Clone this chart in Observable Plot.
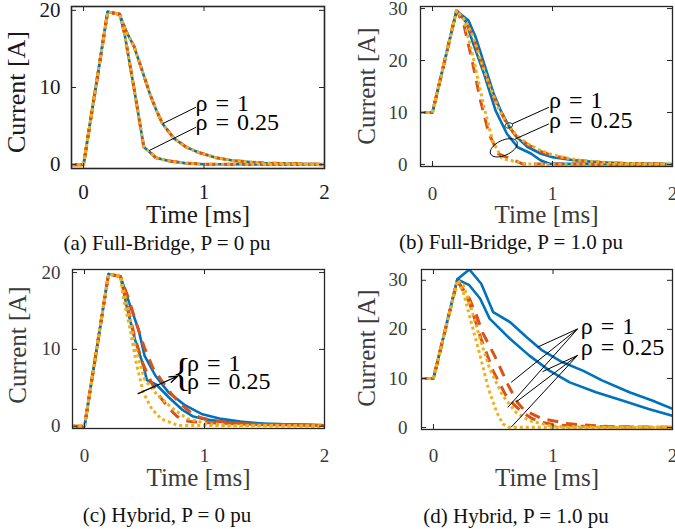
<!DOCTYPE html>
<html><head><meta charset="utf-8">
<script src="https://cdn.jsdelivr.net/npm/d3@7"></script>
<script src="https://cdn.jsdelivr.net/npm/@observablehq/plot@0.6"></script>
<style>
html,body{margin:0;padding:0;background:#fff;}
#wrap{position:relative;width:675px;height:529px;overflow:hidden;background:#fff;font-family:"Liberation Serif",serif;}
.panel{position:absolute;}
.cap{position:absolute;width:400px;text-align:center;font-size:21px;line-height:24px;color:#111;white-space:nowrap;}
.ylab{position:absolute;white-space:nowrap;line-height:1;transform:translate(-50%,-50%) rotate(-90deg);}
</style></head><body><div id="wrap"></div>
<script>
// ---------- tick values / labels ----------
const timeTicks = [0, 1, 2];
const currentTicks20 = [0, 10, 20];
const currentTicks30 = [0, 10, 20, 30];
const xLabel = "Time [ms]";
const yLabel = "Current [A]";
const captions = ["(a) Full-Bridge, P = 0 pu", "(b) Full-Bridge, P = 1.0 pu", "(c) Hybrid, P = 0 pu", "(d) Hybrid, P = 1.0 pu"];
const rhoLabels = ["ρ\u2004=\u20041", "ρ\u2004=\u20040.25"];

// ---------- (a) Full-Bridge, P = 0 pu : [time ms, current A] ----------
const fbP0Rho1 = [[-0.1,0],[0,0],[0.2,19.8],[0.3,19.5],[0.35,17.4],[0.42,15.3],[0.48,12.5],[0.55,9.2],[0.6,7.2],[0.656,5.3],[0.75,3.4],[0.85,2.3],[0.95,1.6],[1.1,0.9],[1.25,0.5],[1.5,0.2],[2,0.05]];
const fbP0Rho025 = [[-0.1,0],[0,0],[0.2,19.8],[0.3,19.5],[0.34,17],[0.42,9.8],[0.5,2.3],[0.544,1.7],[0.6,0.9],[0.7,0.5],[0.84,0.2],[1.0,0.05],[2,0]];

// ---------- (b) Full-Bridge, P = 1.0 pu ----------
const fbP1Rho1Blue = [[-0.1,10],[0,10],[0.2,29.6],[0.3,27.7],[0.36,24.5],[0.43,19.4],[0.51,13.6],[0.57,10.3],[0.633,7.5],[0.7,5.3],[0.79,3.4],[0.9,2.1],[1.0,1.4],[1.18,0.8],[1.4,0.4],[1.6,0.2],[2,0.05]];
const fbP1Rho1Orange = [[-0.1,10],[0,10],[0.2,29.6],[0.28,27.5],[0.35,23.8],[0.43,18.3],[0.5,13.5],[0.57,10],[0.633,7.3],[0.7,5.4],[0.8,3.7],[0.9,2.5],[1.0,1.7],[1.2,0.8],[1.4,0.4],[1.6,0.2],[2,0.05]];
const fbP1Rho1Yellow = [[-0.1,10],[0,10],[0.2,29.6],[0.28,27.5],[0.34,24.5],[0.41,19.5],[0.48,14.9],[0.55,10.8],[0.62,7.9],[0.7,5.6],[0.79,4],[0.88,2.9],[0.98,2.0],[1.1,1.3],[1.23,0.8],[1.4,0.45],[1.6,0.2],[2,0.05]];
const fbP1Rho025Blue = [[-0.1,10],[0,10],[0.2,29.6],[0.28,27.4],[0.34,23.2],[0.43,17.4],[0.525,10.4],[0.62,5.9],[0.71,3.3],[0.82,2.1],[0.9,0.8],[0.98,0.1],[2,0]];
const fbP1Rho025Orange = [[-0.1,10],[0,10],[0.2,29.6],[0.26,27],[0.33,20],[0.4,12.3],[0.47,5.9],[0.55,2.05],[0.68,0.8],[0.75,0.1],[2,0]];
const fbP1Rho025Yellow = [[-0.1,10],[0,10],[0.2,29.6],[0.26,28],[0.345,20],[0.43,11],[0.5,4.6],[0.58,1.1],[0.76,0.2],[0.85,0],[2,0]];

// ---------- (c) Hybrid, P = 0 pu ----------
const hyP0Rho1Blue = [[-0.1,0],[0,0],[0.2,19.8],[0.3,19.5],[0.38,15.7],[0.45,12.6],[0.5,9.2],[0.59,6.6],[0.7,4.4],[0.84,2.7],[0.975,1.6],[1.14,0.95],[1.3,0.6],[1.5,0.3],[2,0.1]];
const hyP0Rho1Orange = [[-0.1,0],[0,0],[0.2,19.8],[0.3,19.5],[0.37,16.5],[0.44,13],[0.5,10.2],[0.57,7.6],[0.64,6.0],[0.72,4.3],[0.8,2.9],[0.9,1.6],[0.97,1.1],[1.1,0.65],[1.3,0.35],[1.5,0.2],[2,0.1]];
const hyP0Rho1Yellow = [[-0.1,0],[0,0],[0.2,19.8],[0.3,19.5],[0.36,15.5],[0.42,10.5],[0.5,6.1],[0.61,4.0],[0.74,2.25],[0.86,0.95],[1.03,0.3],[1.2,0.1],[2,0.05]];
const hyP0Rho025Blue = [[-0.1,0],[0,0],[0.2,19.8],[0.3,19.5],[0.35,15.7],[0.42,11.3],[0.49,7.9],[0.52,6.0],[0.6,5.4],[0.7,3.8],[0.81,2.2],[0.9,1.3],[1.0,0.9],[1.2,0.5],[1.5,0.3],[2,0.1]];
const hyP0Rho025Orange = [[-0.1,0],[0,0],[0.2,19.8],[0.3,19.5],[0.36,15.5],[0.42,11.5],[0.49,8],[0.56,5.6],[0.63,3.8],[0.7,2.4],[0.77,1.3],[0.82,0.8],[0.88,0.6],[1.0,0.5],[1.2,0.35],[1.5,0.2],[2,0.1]];
const hyP0Rho025Yellow = [[-0.1,0],[0,0],[0.2,19.8],[0.3,19.5],[0.32,17],[0.38,12.6],[0.43,8.3],[0.49,4.4],[0.56,2.25],[0.64,0.95],[0.78,0.1],[2,0]];

// ---------- (d) Hybrid, P = 1.0 pu ----------
const hyP1Rho1Blue = [[-0.1,10],[0,10],[0.2,30.2],[0.3,32.2],[0.4,29.3],[0.5,23.5],[0.64,21.5],[0.78,18.4],[0.91,15.7],[1.08,13.3],[1.25,11.6],[1.41,9.6],[1.64,7.2],[1.83,5.5],[2.0,3.8]];
const hyP1Rho1Orange = [[-0.1,10],[0,10],[0.2,30],[0.3,26.3],[0.36,22.9],[0.41,19.4],[0.51,14.7],[0.62,8.9],[0.7,5.2],[0.76,3.5],[0.91,1.8],[1.14,0.75],[1.41,0.27],[1.6,0.1],[2,0.05]];
const hyP1Rho1Yellow = [[-0.1,10],[0,10],[0.2,30],[0.25,29],[0.3,25.6],[0.39,18.1],[0.47,12],[0.58,6.5],[0.69,3.1],[0.8,1.4],[0.97,0.4],[1.1,0.1],[2,0.05]];
const hyP1Rho025Blue = [[-0.1,10],[0,10],[0.2,30.2],[0.3,29],[0.39,26.3],[0.47,22.2],[0.64,18.1],[0.8,14.7],[0.97,11.6],[1.14,9.2],[1.36,7.2],[1.58,5.5],[1.8,3.8],[2.0,2.4]];
const hyP1Rho025Orange = [[-0.1,10],[0,10],[0.2,30],[0.3,25.5],[0.4,18],[0.5,11.5],[0.6,6.8],[0.68,4.5],[0.75,3.0],[0.82,1.9],[0.9,1.1],[1.0,0.6],[1.2,0.25],[2,0.05]];
const hyP1Rho025Yellow = [[-0.1,10],[0,10],[0.2,30],[0.25,27.6],[0.3,22.9],[0.39,14.7],[0.46,7.9],[0.53,3.1],[0.58,0.75],[0.63,0.05],[2,0]];

// ---------- annotations (data coordinates) ----------
const annA_text = [{x:0.93, y:7.9, t:rhoLabels[0]}, {x:0.93, y:5.5, t:rhoLabels[1]}];
const annA_links = [{x1:0.656, y1:5.3, x2:0.933, y2:7.44}, {x1:0.544, y1:1.82, x2:0.933, y2:4.84}];
const annB_text = [{x:0.97, y:12.3, t:rhoLabels[0]}, {x:0.97, y:8.5, t:rhoLabels[1]}];
const annB_links = [{x1:0.664, y1:7.8, x2:0.97, y2:11.0}, {x1:0.69, y1:4.9, x2:0.97, y2:7.8}];
const annB_smallEllipse = [{x:0.636, y:7.5}];
const annB_bigEllipse = [{x:0.594, y:3.2}];
const annC_text = [{x:0.855, y:8.2, t:rhoLabels[0]}, {x:0.855, y:5.8, t:rhoLabels[1]}];
const annC_brace = [{x:0.81, y:6.9}];
const annC_arrow = [{x1:0.447, y1:4.25, x2:0.775, y2:6.5}];
const annD_text = [{x:1.233, y:20.6, t:rhoLabels[0]}, {x:1.233, y:16.3, t:rhoLabels[1]}];
const annD_links = [
  {x1:1.206, y1:20.1, x2:0.872, y2:16.4}, {x1:1.206, y1:20.1, x2:0.65, y2:9.2}, {x1:1.206, y1:20.1, x2:0.622, y2:4.1},
  {x1:1.206, y1:14.7, x2:0.914, y2:11.4}, {x1:1.206, y1:14.7, x2:0.692, y2:5.2}, {x1:1.206, y1:14.7, x2:0.65, y2:0.06}
];

// ---------- styles ----------
const FONT = "Liberation Serif, Times New Roman, serif";
const lineStyle = {
  blue:   {stroke: "#0072BD", strokeWidth: 2.6},
  orange: {stroke: "#D95319", strokeWidth: 3, strokeDasharray: "11,8"},
  yellow: {stroke: "#EDB120", strokeWidth: 3, strokeDasharray: "3,3"}
};

function ellipseSymbol(rx, ry, deg) {
  const a = deg * Math.PI / 180, c = Math.cos(a), s = Math.sin(a);
  return {draw(ctx) {
    const n = 48;
    for (let i = 0; i <= n; i++) {
      const t = 2 * Math.PI * i / n;
      const px = rx * Math.cos(t), py = ry * Math.sin(t);
      const X = px * c - py * s, Y = px * s + py * c;
      if (i) ctx.lineTo(X, Y); else ctx.moveTo(X, Y);
    }
    ctx.closePath();
  }};
}

function panel(cfg) {
  const {width, height, ml, mr, mt, mb, yDomain, yTicks, series, tickFont, xLabelFont,
         xPad, yPad, xLabelDy, frameWidth, textColor, extra} = cfg;
  const innerW = width - ml - mr, innerH = height - mt - mb;
  const tickLen = 5;
  const marks = [];
  for (const s of series) {
    marks.push(Plot.line(s.data, {x: d => d[0], y: d => d[1], ...lineStyle[s.kind], strokeLinecap: "butt", strokeLinejoin: "round", clip: true}));
  }
  if (extra) extra(marks);
  // inward ticks on all four sides
  marks.push(Plot.ruleX(timeTicks, {x: d => d, insetTop: innerH - tickLen, stroke: "#262626", strokeWidth: 1}));
  marks.push(Plot.ruleX(timeTicks, {x: d => d, insetBottom: innerH - tickLen, stroke: "#262626", strokeWidth: 1}));
  marks.push(Plot.ruleY(yTicks, {y: d => d, insetRight: innerW - tickLen, stroke: "#262626", strokeWidth: 1}));
  marks.push(Plot.ruleY(yTicks, {y: d => d, insetLeft: innerW - tickLen, stroke: "#262626", strokeWidth: 1}));
  marks.push(Plot.frame({stroke: "#262626", strokeWidth: frameWidth}));
  marks.push(Plot.axisX({ticks: timeTicks, tickSize: 0, tickPadding: xPad, fontSize: tickFont, label: null, tickFormat: d => String(d), fill: textColor}));
  marks.push(Plot.axisY({ticks: yTicks, tickSize: 0, tickPadding: yPad, fontSize: tickFont, label: null, tickFormat: d => String(d), fill: textColor}));
  marks.push(Plot.text([xLabel], {text: d => d, frameAnchor: "bottom", dy: xLabelDy, fontSize: xLabelFont, fill: textColor}));
  return Plot.plot({
    width, height, marginLeft: ml, marginRight: mr, marginTop: mt, marginBottom: mb,
    x: {domain: [-0.1, 2]},
    y: {domain: yDomain},
    style: {fontFamily: FONT, background: "white", overflow: "visible", color: "#262626"},
    marks
  });
}

function annText(data, size) {
  return Plot.text(data, {x: "x", y: "y", text: "t", textAnchor: "start", fontSize: size, fill: "#000"});
}

const wrap = document.getElementById("wrap");
function place(node, left, top) {
  node.classList.add("panel");
  node.style.left = left + "px";
  node.style.top = top + "px";
  wrap.appendChild(node);
}

const ser = (b1, b2, o1, o2, y1, y2) => [
  {kind: "blue", data: b1}, {kind: "blue", data: b2},
  {kind: "orange", data: o1}, {kind: "orange", data: o2},
  {kind: "yellow", data: y1}, {kind: "yellow", data: y2}
];

// (a)
place(panel({
  width: 338, height: 240, ml: 71, mr: 14, mt: 6, mb: 72,
  yDomain: [-0.5, 20.5], yTicks: currentTicks20,
  series: ser(fbP0Rho1, fbP0Rho025, fbP0Rho1, fbP0Rho025, fbP0Rho1, fbP0Rho025),
  tickFont: 21, xLabelFont: 25, xPad: 16, yPad: 11, xLabelDy: 54,
  frameWidth: 1.6, textColor: "#1a1a1a",
  extra: m => {
    m.push(Plot.link(annA_links, {x1: "x1", y1: "y1", x2: "x2", y2: "y2", stroke: "#000", strokeWidth: 1}));
    m.push(annText(annA_text, 24));
  }
}), 0, 0);

// (b)
place(panel({
  width: 338, height: 240, ml: 83, mr: 3, mt: 6, mb: 74,
  yDomain: [-0.4, 30.4], yTicks: currentTicks30,
  series: ser(fbP1Rho1Blue, fbP1Rho025Blue, fbP1Rho1Orange, fbP1Rho025Orange, fbP1Rho1Yellow, fbP1Rho025Yellow),
  tickFont: 19, xLabelFont: 25, xPad: 20, yPad: 13, xLabelDy: 56,
  frameWidth: 1.3, textColor: "#3a3a3a",
  extra: m => {
    m.push(Plot.link(annB_links, {x1: "x1", y1: "y1", x2: "x2", y2: "y2", stroke: "#000", strokeWidth: 1}));
    m.push(Plot.dot(annB_smallEllipse, {x: "x", y: "y", r: 4, symbol: ellipseSymbol(3.8, 2.6, -10), fill: "none", stroke: "#000", strokeWidth: 1}));
    m.push(Plot.dot(annB_bigEllipse, {x: "x", y: "y", r: 12, symbol: ellipseSymbol(14.5, 7.5, -25), fill: "none", stroke: "#000", strokeWidth: 1}));
    m.push(annText(annB_text, 24));
  }
}), 337, 0);

// (c)
place(panel({
  width: 338, height: 255, ml: 72, mr: 14, mt: 19, mb: 77,
  yDomain: [-0.3, 20.4], yTicks: currentTicks20,
  series: ser(hyP0Rho1Blue, hyP0Rho025Blue, hyP0Rho1Orange, hyP0Rho025Orange, hyP0Rho1Yellow, hyP0Rho025Yellow),
  tickFont: 19, xLabelFont: 25, xPad: 20, yPad: 12, xLabelDy: 57,
  frameWidth: 1.3, textColor: "#3a3a3a",
  extra: m => {
    m.push(Plot.arrow(annC_arrow, {x1: "x1", y1: "y1", x2: "x2", y2: "y2", stroke: "#000", strokeWidth: 1.3, headLength: 10, headAngle: 40}));
    m.push(Plot.text(annC_brace, {x: "x", y: "y", text: () => "{", fontSize: 40, fill: "#000"}));
    m.push(annText(annC_text, 24));
  }
}), 0, 250);

// (d)
place(panel({
  width: 338, height: 255, ml: 84, mr: 3, mt: 19, mb: 76,
  yDomain: [-0.4, 32.2], yTicks: currentTicks30,
  series: ser(hyP1Rho1Blue, hyP1Rho025Blue, hyP1Rho1Orange, hyP1Rho025Orange, hyP1Rho1Yellow, hyP1Rho025Yellow),
  tickFont: 19, xLabelFont: 25, xPad: 19, yPad: 14, xLabelDy: 56,
  frameWidth: 1.3, textColor: "#3a3a3a",
  extra: m => {
    m.push(Plot.link(annD_links, {x1: "x1", y1: "y1", x2: "x2", y2: "y2", stroke: "#000", strokeWidth: 1}));
    m.push(annText(annD_text, 24));
  }
}), 337, 250);

// rotated y-axis labels (centre x, centre y, font size, colour)
const yLabelPos = [[17, 92, 26, "#1a1a1a"], [366, 86, 25, "#3a3a3a"], [17, 345, 25, "#3a3a3a"], [366, 348, 25, "#3a3a3a"]];
yLabelPos.forEach(([x, y, fs, col]) => {
  const d = document.createElement("div");
  d.className = "ylab";
  d.textContent = yLabel;
  d.style.left = x + "px";
  d.style.top = y + "px";
  d.style.fontSize = fs + "px";
  d.style.color = col;
  wrap.appendChild(d);
});

// captions
const capPos = [[167, 231], [511, 230], [167, 503], [516, 504]];
captions.forEach((c, i) => {
  const d = document.createElement("div");
  d.className = "cap";
  d.textContent = c;
  d.style.left = (capPos[i][0] - 200) + "px";
  d.style.top = capPos[i][1] + "px";
  wrap.appendChild(d);
});
</script></body></html>
